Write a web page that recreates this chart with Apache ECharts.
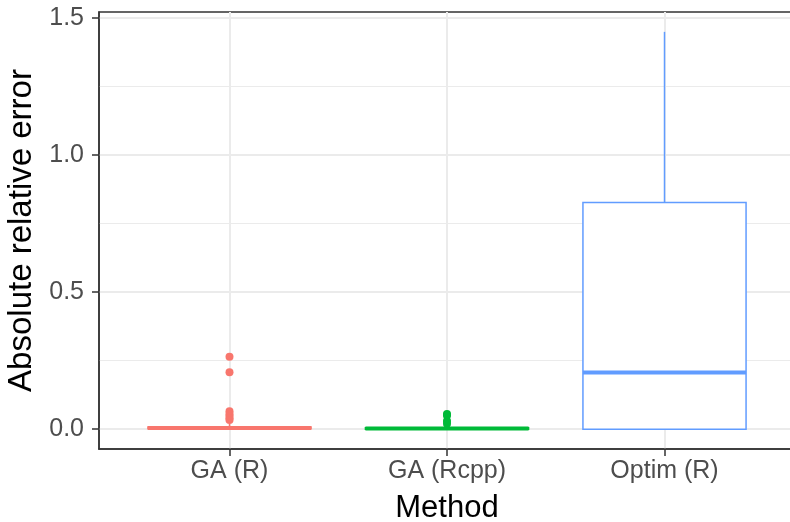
<!DOCTYPE html>
<html>
<head>
<meta charset="utf-8">
<script src="https://cdn.jsdelivr.net/npm/echarts@6/dist/echarts.min.js"></script>
<style>
  html, body { margin: 0; padding: 0; background: #ffffff; }
  #chart { width: 790px; height: 522px; }
</style>
</head>
<body>
<div id="chart"></div>
<script>
// Methods compared along the x axis
const methods = ['GA (R)', 'GA (Rcpp)', 'Optim (R)'];

// Box statistics per method: [lower whisker, Q1, median, Q3, upper whisker]
const boxGA_R     = [0.000, 0.001, 0.004, 0.008, 0.020];
const boxGA_Rcpp  = [0.000, 0.000, 0.002, 0.005, 0.012];
const boxOptim_R  = [0.000, 0.000, 0.207, 0.827, 1.450];

// Outlying observations per method
const outGA_R    = [0.264, 0.208, 0.065, 0.055, 0.048, 0.040, 0.033];
const outGA_Rcpp = [0.055, 0.050, 0.030, 0.020];
const outOptim_R = [];

// Axis tick values
const yMajorTicks = [0, 0.5, 1.0, 1.5];
const yMinorTicks = [0.25, 0.75, 1.25];

const palette = ['#F8766D', '#00BA38', '#619CFF'];

const boxes = [boxGA_R, boxGA_Rcpp, boxOptim_R];
const outliers = [outGA_R, outGA_Rcpp, outOptim_R];

const boxData = boxes.map((b, i) => ({
  value: [i + 1].concat(b),
  itemStyle: { color: palette[i] }
}));

const pointData = [];
outliers.forEach((arr, i) => {
  arr.forEach(v => pointData.push({ value: [i + 1, v], itemStyle: { color: palette[i], opacity: 1 } }));
});

const FONT = "'Liberation Sans', Arial, Helvetica, sans-serif";

function renderBox(params, api) {
  const x = api.value(0);
  const lo = api.coord([x, api.value(1)]);
  const q1 = api.coord([x, api.value(2)]);
  const md = api.coord([x, api.value(3)]);
  const q3 = api.coord([x, api.value(4)]);
  const hi = api.coord([x, api.value(5)]);
  const halfW = api.size([0.75, 0])[0] / 2;
  const color = palette[params.dataIndex];
  const cx = q1[0];
  return {
    type: 'group',
    children: [
      { type: 'line', shape: { x1: cx, y1: q3[1], x2: cx, y2: hi[1] },
        style: { stroke: color, lineWidth: 1.5 } },
      { type: 'line', shape: { x1: cx, y1: q1[1], x2: cx, y2: lo[1] },
        style: { stroke: color, lineWidth: 1.5 } },
      { type: 'rect', shape: { x: cx - halfW, y: q3[1], width: halfW * 2, height: q1[1] - q3[1] },
        style: { fill: '#ffffff', stroke: color, lineWidth: 1.5 } },
      { type: 'line', shape: { x1: cx - halfW, y1: md[1], x2: cx + halfW, y2: md[1] },
        style: { stroke: color, lineWidth: 4 } }
    ]
  };
}

const chart = echarts.init(document.getElementById('chart'), null, { renderer: 'canvas' });

chart.setOption({
  animation: false,
  backgroundColor: '#ffffff',
  grid: {
    left: 99, top: 12, right: -5, bottom: 73,
    outerBoundsMode: 'none',
    containLabel: false,
    show: true, borderColor: '#333333', borderWidth: 1.5, backgroundColor: 'transparent'
  },
  xAxis: {
    type: 'value',
    min: 0.4, max: 3.6,
    name: 'Method',
    nameLocation: 'middle',
    nameGap: 44,
    nameTextStyle: { fontFamily: FONT, fontSize: 31, color: '#000000' },
    axisLine: { show: true, onZero: false, lineStyle: { color: '#333333', width: 1.5 } },
    axisTick: { show: true, customValues: [1, 2, 3], length: 7, lineStyle: { color: '#333333', width: 1.5 } },
    axisLabel: {
      customValues: [1, 2, 3],
      formatter: v => methods[Math.round(v) - 1],
      fontFamily: FONT, fontSize: 25, color: '#4d4d4d', margin: 10
    },
    splitLine: { show: true, lineStyle: { color: '#ebebeb', width: 2 } }
  },
  yAxis: [{
    type: 'value',
    min: -0.0725, max: 1.5225,
    name: 'Absolute relative error',
    nameLocation: 'middle',
    nameGap: 53,
    nameTextStyle: { fontFamily: FONT, fontSize: 33, color: '#000000' },
    axisLine: { show: true, onZero: false, lineStyle: { color: '#333333', width: 1.5 } },
    axisTick: { show: true, customValues: yMajorTicks, length: 7, lineStyle: { color: '#333333', width: 1.5 } },
    axisLabel: {
      customValues: yMajorTicks,
      formatter: v => v.toFixed(1),
      fontFamily: FONT, fontSize: 25, color: '#4d4d4d', margin: 15
    },
    splitLine: { show: true, lineStyle: { color: '#ebebeb', width: 2 } }
  }, {
    type: 'value',
    min: -0.0725, max: 1.5225,
    position: 'left',
    axisLine: { show: false },
    axisTick: { show: false, customValues: yMinorTicks },
    axisLabel: { show: false, customValues: yMinorTicks },
    splitLine: { show: true, lineStyle: { color: '#ebebeb', width: 1 } }
  }],
  series: [{
    type: 'custom',
    name: 'box',
    renderItem: renderBox,
    encode: { x: 0, y: [1, 2, 3, 4, 5] },
    data: boxData,
    z: 3
  }, {
    type: 'scatter',
    name: 'outliers',
    symbolSize: 8,
    itemStyle: { opacity: 1 },
    data: pointData,
    z: 4
  }]
});
</script>
</body>
</html>
